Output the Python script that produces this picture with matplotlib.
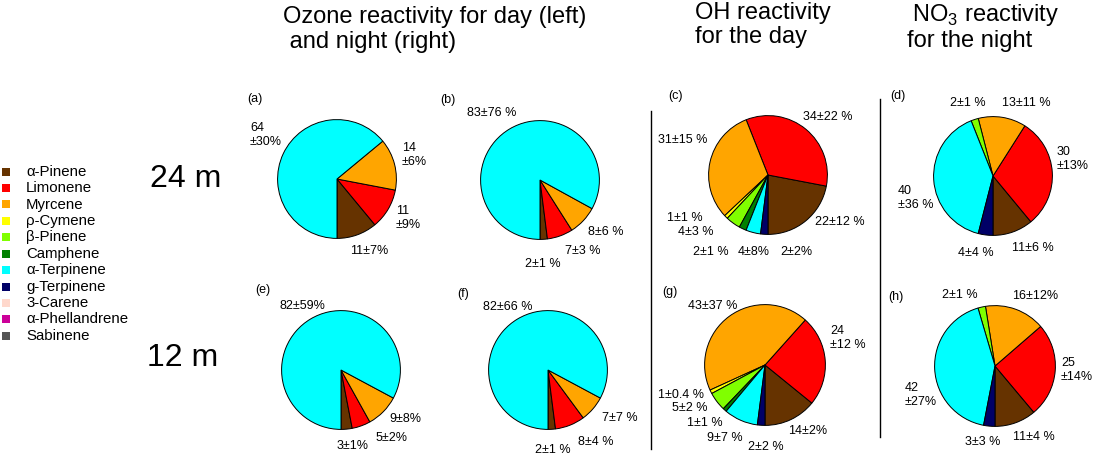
import matplotlib
matplotlib.use("Agg")
import matplotlib.pyplot as plt

plt.rcParams["font.family"] = ["Liberation Sans", "DejaVu Sans"]
plt.rcParams["mathtext.fontset"] = "custom"
plt.rcParams["mathtext.rm"] = "Liberation Sans"

# species in legend order
species = ["α-Pinene", "Limonene", "Myrcene", "ρ-Cymene", "β-Pinene", "Camphene",
           "α-Terpinene", "g-Terpinene", "3-Carene", "α-Phellandrene", "Sabinene"]
species_colors = ["#663300", "#ff0000", "#ffa500", "#ffff00", "#80ff00", "#008000",
                  "#00ffff", "#000066", "#ffd8cc", "#cc0099", "#555555"]

# reactivity shares (%) per panel, same order as species
ozone_day_24 = [11, 11, 14, 0, 0, 0, 64, 0, 0, 0, 0]
ozone_night_24 = [2, 7, 8, 0, 0, 0, 83, 0, 0, 0, 0]
oh_day_24 = [22, 34, 31, 1, 4, 2, 4, 2, 0, 0, 0]
no3_night_24 = [11, 30, 13, 0, 2, 0, 40, 4, 0, 0, 0]
ozone_day_12 = [3, 5, 9, 0, 0, 0, 82, 0, 0, 0, 0]
ozone_night_12 = [2, 8, 7, 0, 0, 0, 82, 0, 0, 0, 0]
oh_day_12 = [14, 24, 43, 1, 5, 1, 9, 2, 0, 0, 0]
no3_night_12 = [11, 25, 16, 0, 2, 0, 42, 3, 0, 0, 0]

# slice labels (value ± error)
labels_a = ["11±7%", "11\n±9%", "14\n±6%", "64\n±30%"]
labels_b = ["2±1 %", "7±3 %", "8±6 %", "83±76 %"]
labels_c = ["22±12 %", "34±22 %", "31±15 %", "1±1 %", "4±3 %", "2±1 %", "4±8%", "2±2%"]
labels_d = ["11±6 %", "30\n±13%", "13±11 %", "2±1 %", "40\n±36 %", "4±4 %"]
labels_e = ["3±1%", "5±2%", "9±8%", "82±59%"]
labels_f = ["2±1 %", "8±4 %", "7±7 %", "82±66 %"]
labels_g = ["14±2%", "24\n±12 %", "43±37 %", "1±0.4 %", "5±2 %", "1±1 %", "9±7 %", "2±2 %"]
labels_h = ["11±4 %", "25\n±14%", "16±12%", "2±1 %", "42\n±27%", "3±3 %"]

W, H = 1095, 454


def fx(x):
    return x / W


def fy(y):
    return 1 - y / H


# layout: pie centre / radius in px, label anchors (left x, centre y) in px
panels = [
    ("(a)", ozone_day_24, labels_a, (337, 179, 60), (247, 99),
     [(350, 251), (396, 218), (402, 155), (250, 135)]),
    ("(b)", ozone_night_24, labels_b, (540, 180, 60), (440, 100),
     [(525, 264), (565, 251), (588, 232), (467, 113)]),
    ("(c)", oh_day_24, labels_c, (768, 175, 60), (668, 96),
     [(815, 222), (803, 117), (658, 140), (667, 218), (678, 232), (693, 252), (738, 252), (780, 252)]),
    ("(d)", no3_night_24, labels_d, (993, 176, 60), (890, 96),
     [(1012, 248), (1057, 159), (1002, 103), (950, 103), (898, 198), (958, 253)]),
    ("(e)", ozone_day_12, labels_e, (341, 370, 60), (255, 290),
     [(337, 446), (376, 438), (389, 419), (279, 306)]),
    ("(f)", ozone_night_12, labels_f, (548, 370, 60), (457, 294),
     [(535, 450), (578, 442), (602, 418), (483, 307)]),
    ("(g)", oh_day_12, labels_g, (765, 365, 61), (662, 292),
     [(788, 431), (830, 338), (688, 306), (658, 395), (672, 408), (687, 423), (707, 438), (748, 447)]),
    ("(h)", no3_night_12, labels_h, (995, 366, 61), (888, 297),
     [(1013, 437), (1061, 370), (1012, 296), (942, 295), (905, 395), (965, 442)]),
]

fig = plt.figure(figsize=(W / 100, H / 100), dpi=100)

for tag, values, labels, (cx, cy, r), (tx, ty), label_pos in panels:
    vals = [v for v in values if v > 0]
    cols = [c for v, c in zip(values, species_colors) if v > 0]
    ax = fig.add_axes([fx(cx - r), fy(cy + r), 2 * r / W, 2 * r / H])
    ax.pie(vals, colors=cols, startangle=270, counterclock=True, radius=1,
           wedgeprops=dict(edgecolor="black", linewidth=0.7))
    ax.set_xlim(-1.01, 1.01)
    ax.set_ylim(-1.01, 1.01)
    ax.axis("off")
    fig.text(fx(tx), fy(ty), tag, fontsize=9, ha="left", va="center")
    for text, (lx, ly) in zip(labels, label_pos):
        fig.text(fx(lx), fy(ly), text, fontsize=9, ha="left", va="center",
                 linespacing=1.25)

# legend
for i, (name, col) in enumerate(zip(species, species_colors)):
    yy = 171.7 + i * 16.4
    fig.patches.append(plt.Rectangle((fx(2), fy(yy + 4)), 8 / W, 8 / H,
                                     transform=fig.transFigure, facecolor=col,
                                     edgecolor="none"))
    fig.text(fx(26), fy(yy), name, fontsize=10.8, ha="left", va="center")

# row labels
fig.text(fx(150), fy(187), "24 m", fontsize=23, ha="left", va="baseline")
fig.text(fx(147), fy(366), "12 m", fontsize=23, ha="left", va="baseline")

# column titles
fig.text(fx(283), fy(22.5), "Ozone reactivity for day (left)", fontsize=17, va="baseline")
fig.text(fx(283), fy(48), " and night (right)", fontsize=17, va="baseline")
fig.text(fx(695), fy(18.5), "OH reactivity", fontsize=17, va="baseline")
fig.text(fx(695), fy(43.5), "for the day", fontsize=17, va="baseline")
fig.text(fx(912), fy(20.5), "NO$_3$ reactivity", fontsize=17, va="baseline")
fig.text(fx(907), fy(46.5), "for the night", fontsize=17, va="baseline")

# separators
fig.add_artist(plt.Line2D([fx(651), fx(651)], [fy(111), fy(449)], color="black", linewidth=1))
fig.add_artist(plt.Line2D([fx(880), fx(880)], [fy(99), fy(437)], color="black", linewidth=1))

fig.savefig("out.png", dpi=100)
